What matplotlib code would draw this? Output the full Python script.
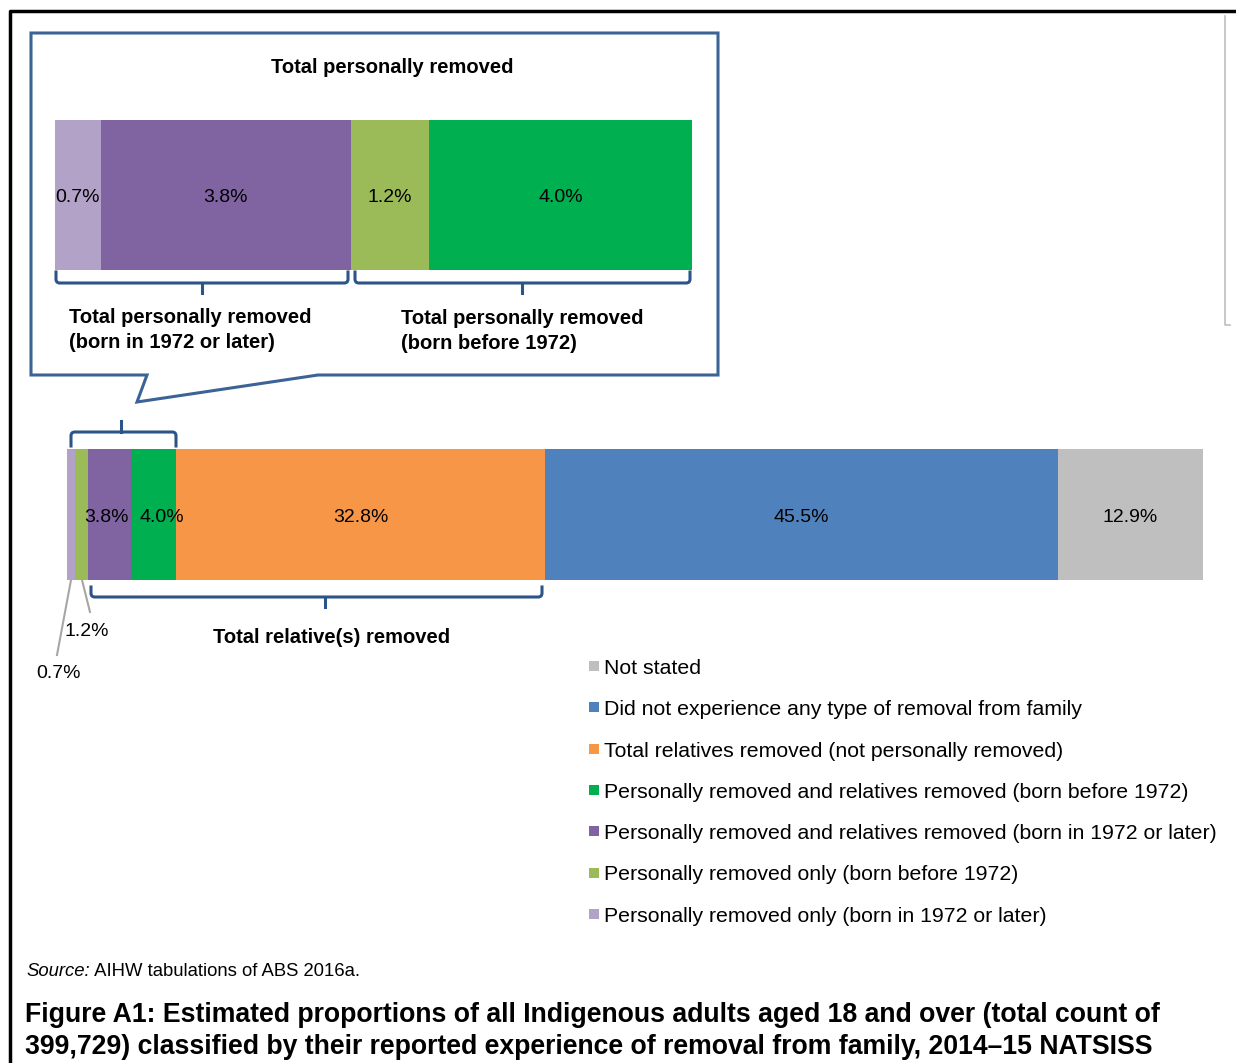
import matplotlib
matplotlib.use("Agg")
import matplotlib.pyplot as plt
from matplotlib.patches import Rectangle
from matplotlib.path import Path
from matplotlib.patches import PathPatch

plt.rcParams['font.family'] = ['Liberation Sans', 'DejaVu Sans']

# ---------------- data ----------------
main_labels = ["Personally removed only (born in 1972 or later)",
               "Personally removed only (born before 1972)",
               "Personally removed and relatives removed (born in 1972 or later)",
               "Personally removed and relatives removed (born before 1972)",
               "Total relatives removed (not personally removed)",
               "Did not experience any type of removal from family",
               "Not stated"]
main_values = [0.7, 1.2, 3.8, 4.0, 32.8, 45.5, 12.9]
main_colors = ["#B3A2C7", "#9BBB59", "#8064A2", "#00B050", "#F79646", "#4F81BD", "#BFBFBF"]

inset_order = [0, 2, 1, 3]   # indices into the main series for the zoomed bar
inset_values = [main_values[i] for i in inset_order]
inset_colors = [main_colors[i] for i in inset_order]

W, H = 1236, 1063
fig = plt.figure(figsize=(W / 100, H / 100), dpi=100)

def fig_rect(x0, y0, x1, y1):
    return [x0 / W, 1 - y1 / H, (x1 - x0) / W, (y1 - y0) / H]

# overlay axes in pixel coordinates for decorations
ov = fig.add_axes([0, 0, 1, 1])
ov.set_xlim(0, W)
ov.set_ylim(H, 0)
ov.axis('off')

DY = 2.5  # vertical text compensation (pixels)

def T(x, y, s, **kw):
    kw.setdefault('va', 'center')
    return ov.text(x, y + DY, s, **kw)

# outer frame
ov.plot([10, 10, W], [H, 11, 11], color='black', lw=2.5, solid_capstyle='butt')
# faint gray line at right
ov.plot([1224.5, 1224.5, 1230], [16, 325, 325], color='#BFBFBF', lw=1.2)

# callout box
box_col = '#3B6396'
verts = [(31, 33), (718, 33), (718, 375), (318, 375), (137, 402), (147, 375), (31, 375), (31, 33)]
ov.add_patch(PathPatch(Path(verts, closed=True), facecolor='none', edgecolor=box_col, lw=2.2))

brace_col = '#2D5488'

def brace(x0, x1, y_base, y_line, y_tip, xc=None):
    if xc is None:
        xc = (x0 + x1) / 2
    s = 1 if y_line > y_base else -1
    r = 3
    ov.plot([x0, x0, x0 + r * 0.3, x0 + r, x1 - r, x1 - r * 0.3, x1, x1],
            [y_base, y_line - s * r, y_line - s * r * 0.3, y_line, y_line, y_line - s * r * 0.3, y_line - s * r, y_base],
            color=brace_col, lw=2.2, solid_joinstyle='round')
    ov.plot([xc, xc], [y_line, y_tip], color=brace_col, lw=2.2)

brace(56, 348, 272, 283, 293, 202)
brace(355, 690, 272, 283, 293, 522)
brace(71, 176, 446, 432, 421, 121)
brace(91, 542, 587, 597, 607, 325)

BFS = 14.5
T(392, 65, "Total personally removed", ha='center', fontsize=BFS, fontweight='bold')
T(69, 315, "Total personally removed", ha='left', fontsize=BFS, fontweight='bold')
T(69, 340, "(born in 1972 or later)", ha='left', fontsize=BFS, fontweight='bold')
T(401, 316, "Total personally removed", ha='left', fontsize=BFS, fontweight='bold')
T(401, 341, "(born before 1972)", ha='left', fontsize=BFS, fontweight='bold')
T(332, 635, "Total relative(s) removed", ha='center', fontsize=BFS, fontweight='bold')

# leader lines for tiny segments
ov.plot([71, 57], [580, 655], color='#A6A6A6', lw=1.5)
ov.plot([82, 90], [580, 612], color='#A6A6A6', lw=1.5)
VFS = 14
T(64, 629, "1.2%", ha='left', fontsize=VFS)
T(36, 671, "0.7%", ha='left', fontsize=VFS)

# ---------------- main bar ----------------
axm = fig.add_axes(fig_rect(67, 449, 1203, 580))
left = 0
for v, c in zip(main_values, main_colors):
    axm.barh(0, v, left=left, height=1, color=c, edgecolor='none')
    left += v
total = left
axm.set_xlim(0, total)
axm.set_ylim(0.5, -0.5)
axm.axis('off')

starts = [sum(main_values[:i]) for i in range(len(main_values))]
ym = 0.025
axm.text(starts[2] + main_values[2] / 2 - 0.3, ym, "3.8%", ha='center', va='center', fontsize=VFS)
axm.text(starts[3] + main_values[3] / 2 + 0.7, ym, "4.0%", ha='center', va='center', fontsize=VFS)
for i in (4, 5, 6):
    axm.text(starts[i] + main_values[i] / 2, ym, f"{main_values[i]:.1f}%", ha='center', va='center', fontsize=VFS)

# ---------------- inset bar ----------------
axi = fig.add_axes(fig_rect(55, 120, 692, 270))
left = 0
for v, c in zip(inset_values, inset_colors):
    axi.barh(0, v, left=left, height=1, color=c, edgecolor='none')
    axi.text(left + v / 2, 0.02, f"{v:.1f}%", ha='center', va='center', fontsize=VFS)
    left += v
axi.set_xlim(0, left)
axi.set_ylim(0.5, -0.5)
axi.axis('off')

# ---------------- legend ----------------
leg_y0 = 666
leg_dy = 41.3
LFS = 15.3
for k, i in enumerate(reversed(range(len(main_labels)))):
    y = leg_y0 + k * leg_dy
    ov.add_patch(Rectangle((589, y - 5), 10, 10, facecolor=main_colors[i], edgecolor='none'))
    T(604, y, main_labels[i], ha='left', fontsize=LFS)

# ---------------- source & caption ----------------
t = T(26, 969, "Source:", ha='left', fontsize=13.3, style='italic')
ov.annotate(" AIHW tabulations of ABS 2016a.", xycoords=t, xy=(1, 0.5), va='center', ha='left', fontsize=13.3)
T(25, 1013, "Figure A1: Estimated proportions of all Indigenous adults aged 18 and over (total count of",
  ha='left', fontsize=19.2, fontweight='bold')
T(25, 1044, "399,729) classified by their reported experience of removal from family, 2014\u201315 NATSISS",
  ha='left', fontsize=19.2, fontweight='bold')

fig.savefig("out.png", dpi=100)
